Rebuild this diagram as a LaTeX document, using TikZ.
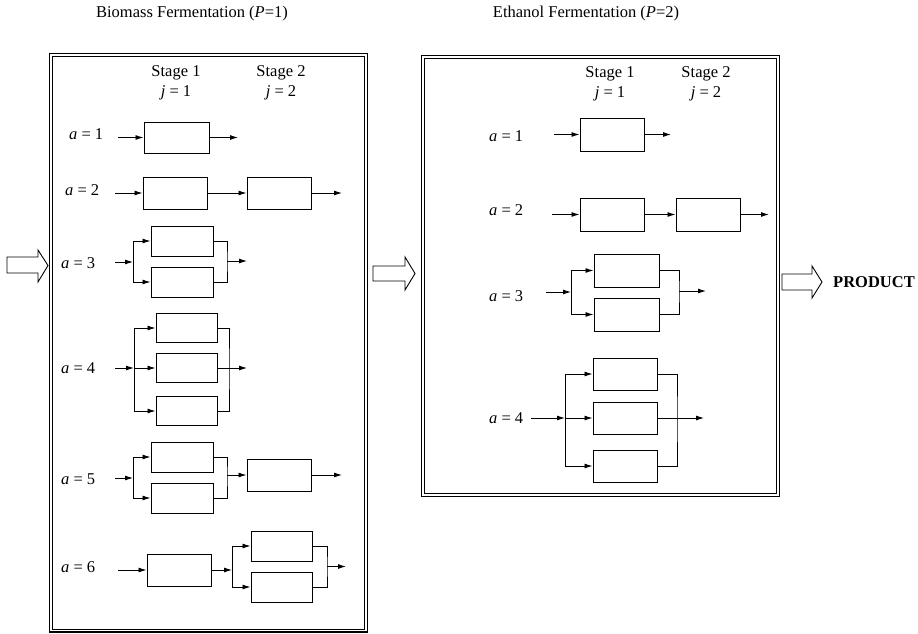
\documentclass[tikz,border=0pt]{standalone}
\usepackage{fontspec}
\setmainfont{Liberation Serif}
\usetikzlibrary{arrows.meta}

\tikzset{
  unit/.style={draw,line width=1pt,inner sep=0pt,minimum width=64pt,minimum height=32pt},
  unitsm/.style={unit,minimum width=62pt,minimum height=30pt},
  flow/.style={line width=0.9pt,-{Latex[length=8pt,width=5pt]}},
  wire/.style={line width=0.9pt},
  frame/.style={draw,double,double distance=1.6pt,line width=1.2pt},
  fat/.style={draw,line width=0.9pt,fill=white},
  lab/.style={anchor=west,inner sep=0pt},
}

\begin{document}
\begin{tikzpicture}[x=1pt,y=-1pt,font=\fontsize{16.5}{19}\selectfont]
  \useasboundingbox (0,0) rectangle (918,634);

  % titles
  \node (t1) at (192,14) {Biomass Fermentation (\textit{P}=1)};
  \node (t2) at (586,14) {Ethanol Fermentation (\textit{P}=2)};

  % frames
  \draw[frame] (51,55) rectangle (366,630.5);
  \draw[frame] (423,57) rectangle (778,495);

  % hollow arrows
  \draw[fat] (7,257) -- ++(31,0) -- ++(0,-7) -- (48,265.5) -- (38,282) -- ++(0,-9) -- ++(-31,0) -- cycle;
  \draw[fat] (373,266) -- ++(32,0) -- ++(0,-9) -- (415,273.5) -- (405,290) -- ++(0,-9) -- ++(-32,0) -- cycle;
  \draw[fat] (782,274) -- ++(30,0) -- ++(0,-8) -- (822,282) -- (812,298) -- ++(0,-8) -- ++(-30,0) -- cycle;
  \node[lab,font=\fontsize{16.5}{19}\selectfont\bfseries] (prod) at (833,282) {PRODUCT};

  % stage headers
  \foreach \x/\n in {176/1,281/2}{
    \node (p1s\n) at (\x,73) {Stage \n};
    \node (p1j\n) at (\x,93) {\textit{j} = \n};
  }
  \foreach \x/\n in {610/1,706/2}{
    \node (p2s\n) at (\x,74) {Stage \n};
    \node (p2j\n) at (\x,94) {\textit{j} = \n};
  }

  % row labels
  \foreach \y/\a/\x in {134/1/69,190/2/65,263/3/61,368/4/61,479/5/61,567/6/61}{
    \node[lab] (p1l\a) at (\x,\y) {\textit{a} = \a};
  }
  \foreach \y/\a in {136/1,210/2,296/3,418/4}{
    \node[lab] (p2l\a) at (489,\y) {\textit{a} = \a};
  }

  % P=1, a=1
  \node[unit,minimum width=65pt,minimum height=31pt] (p1a1) at (176.5,137.5) {};
  \coordinate (p1a1in) at (118,137.5);
  \coordinate (p1a1out) at (238,137.5);
  \draw[flow] (p1a1in) -- (p1a1);
  \draw[flow] (p1a1) -- (p1a1out);

  % P=1, a=2
  \node[unit] (p1a2s1) at (175,193) {};
  \node[unit] (p1a2s2) at (279,193) {};
  \coordinate (p1a2in) at (115,193);
  \coordinate (p1a2out) at (342,193);
  \draw[flow] (p1a2in) -- (p1a2s1);
  \draw[flow] (p1a2s1) -- (p1a2s2);
  \draw[flow] (p1a2s2) -- (p1a2out);

  % P=1, a=3
  \node[unitsm] (p1a3u) at (182,241) {};
  \node[unitsm] (p1a3d) at (182,282) {};
  \coordinate (p1a3in) at (115,262);
  \coordinate (p1a3sp) at (133,262);
  \coordinate (p1a3mg) at (227,261);
  \coordinate (p1a3out) at (247,261);
  \draw[flow] (p1a3in) -- (p1a3sp);
  \draw[flow] (p1a3sp) |- (p1a3u);
  \draw[flow] (p1a3sp) |- (p1a3d);
  \draw[wire] (p1a3u) -| (p1a3mg) |- (p1a3d);
  \draw[flow] (p1a3mg) -- (p1a3out);

  % P=1, a=4
  \node[unitsm,minimum width=61pt,minimum height=29pt] (p1a4u) at (186.5,328) {};
  \node[unitsm,minimum width=61pt,minimum height=29pt] (p1a4m) at (186.5,368) {};
  \node[unitsm,minimum width=61pt,minimum height=29pt] (p1a4d) at (186.5,411) {};
  \coordinate (p1a4in) at (115,368);
  \coordinate (p1a4sp) at (134,368);
  \coordinate (p1a4mg) at (229,368);
  \coordinate (p1a4out) at (247,368);
  \draw[flow] (p1a4in) -- (p1a4sp);
  \draw[flow] (p1a4sp) |- (p1a4u);
  \draw[flow] (p1a4sp) -- (p1a4m);
  \draw[flow] (p1a4sp) |- (p1a4d);
  \draw[wire] (p1a4u) -| (p1a4mg) |- (p1a4d);
  \draw[flow] (p1a4m) -- (p1a4out);

  % P=1, a=5
  \node[unitsm] (p1a5u) at (182,457) {};
  \node[unitsm] (p1a5d) at (182,498) {};
  \node[unit] (p1a5s2) at (279,475) {};
  \coordinate (p1a5in) at (115,478);
  \coordinate (p1a5sp) at (133,478);
  \coordinate (p1a5mg) at (227,475);
  \coordinate (p1a5out) at (342,475);
  \draw[flow] (p1a5in) -- (p1a5sp);
  \draw[flow] (p1a5sp) |- (p1a5u);
  \draw[flow] (p1a5sp) |- (p1a5d);
  \draw[wire] (p1a5u) -| (p1a5mg) |- (p1a5d);
  \draw[flow] (p1a5mg) -- (p1a5s2);
  \draw[flow] (p1a5s2) -- (p1a5out);

  % P=1, a=6
  \node[unit] (p1a6s1) at (179,570) {};
  \node[unitsm,minimum width=61pt] (p1a6u) at (281.5,546) {};
  \node[unitsm,minimum width=61pt] (p1a6d) at (281.5,587) {};
  \coordinate (p1a6in) at (118,570);
  \coordinate (p1a6sp) at (232,570);
  \coordinate (p1a6mg) at (327,566.5);
  \coordinate (p1a6out) at (346,566.5);
  \draw[flow] (p1a6in) -- (p1a6s1);
  \draw[flow] (p1a6s1) -- (p1a6sp);
  \draw[flow] (p1a6sp) |- (p1a6u);
  \draw[flow] (p1a6sp) |- (p1a6d);
  \draw[wire] (p1a6u) -| (p1a6mg) |- (p1a6d);
  \draw[flow] (p1a6mg) -- (p1a6out);

  % P=2, a=1
  \node[unit,minimum height=33pt] (p2a1) at (612,134.5) {};
  \coordinate (p2a1in) at (554,134.5);
  \coordinate (p2a1out) at (671,134.5);
  \draw[flow] (p2a1in) -- (p2a1);
  \draw[flow] (p2a1) -- (p2a1out);

  % P=2, a=2
  \node[unit,minimum height=33pt] (p2a2s1) at (612,214.5) {};
  \node[unit,minimum height=33pt] (p2a2s2) at (708,214.5) {};
  \coordinate (p2a2in) at (552,214.5);
  \coordinate (p2a2out) at (769,214.5);
  \draw[flow] (p2a2in) -- (p2a2s1);
  \draw[flow] (p2a2s1) -- (p2a2s2);
  \draw[flow] (p2a2s2) -- (p2a2out);

  % P=2, a=3
  \node[unit,minimum width=65pt,minimum height=33pt] (p2a3u) at (626.5,270.5) {};
  \node[unit,minimum width=65pt,minimum height=33pt] (p2a3d) at (626.5,314.5) {};
  \coordinate (p2a3in) at (546,292);
  \coordinate (p2a3sp) at (571,292);
  \coordinate (p2a3mg) at (679,291);
  \coordinate (p2a3out) at (706,291);
  \draw[flow] (p2a3in) -- (p2a3sp);
  \draw[flow] (p2a3sp) |- (p2a3u);
  \draw[flow] (p2a3sp) |- (p2a3d);
  \draw[wire] (p2a3u) -| (p2a3mg) |- (p2a3d);
  \draw[flow] (p2a3mg) -- (p2a3out);

  % P=2, a=4
  \node[unit] (p2a4u) at (625,374) {};
  \node[unit] (p2a4m) at (625,418) {};
  \node[unit] (p2a4d) at (625,466) {};
  \coordinate (p2a4in) at (531,418);
  \coordinate (p2a4sp) at (565,418);
  \coordinate (p2a4mg) at (677,418);
  \coordinate (p2a4out) at (704,418);
  \draw[flow] (p2a4in) -- (p2a4sp);
  \draw[flow] (p2a4sp) |- (p2a4u);
  \draw[flow] (p2a4sp) -- (p2a4m);
  \draw[flow] (p2a4sp) |- (p2a4d);
  \draw[wire] (p2a4u) -| (p2a4mg) |- (p2a4d);
  \draw[flow] (p2a4m) -- (p2a4out);
\end{tikzpicture}
\end{document}
